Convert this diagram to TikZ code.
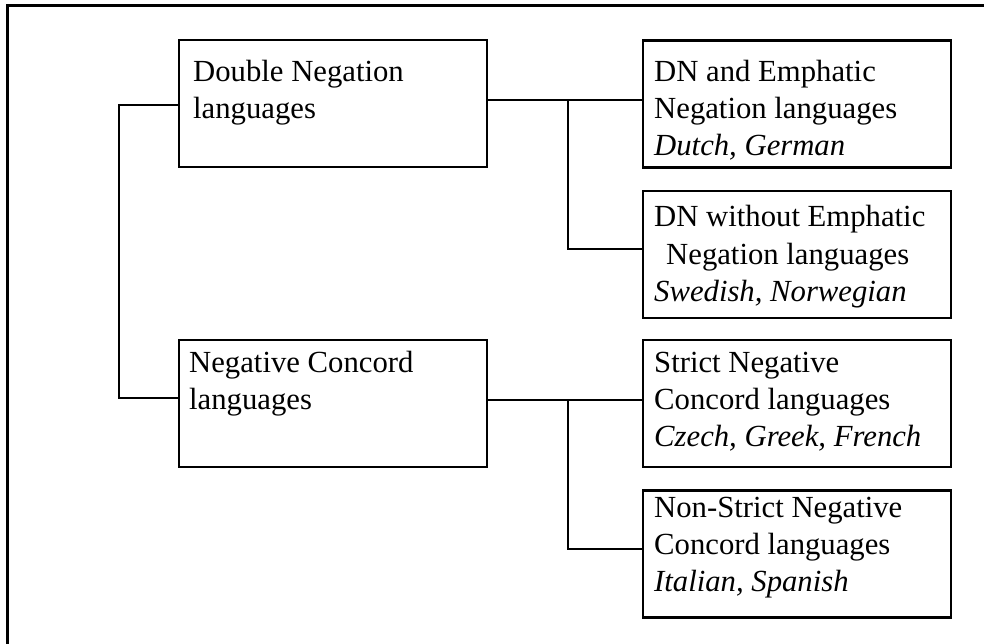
\documentclass[tikz,border=0pt]{standalone}
\usepackage{fontspec}
\setmainfont{Liberation Serif}
\begin{document}
\begin{tikzpicture}[x=1pt,y=-1pt,
  box/.style={draw, line width=2.5pt, minimum width=308pt, minimum height=127pt, inner sep=0pt},
  txt/.style={anchor=base west, inner sep=0pt, font=\fontsize{30.7}{37}\selectfont},
  conn/.style={line width=2.5pt}]
\useasboundingbox (0,0) rectangle (984,644);
% outer frame (top and left only visible)
\draw[line width=3pt] (7,650) -- (7,6) -- (990,6);
% boxes
\node[box] (dn) at (333,103.5) {};
\node[box] (nc) at (333,403.5) {};
\node[box] (dne) at (797,104) {};
\node[box] (dnw) at (797,254.5) {};
\node[box] (snc) at (797,403.5) {};
\node[box] (nsnc) at (797,554) {};
% texts
\node[txt] (tdn) at (193,82) {\parbox[t]{290pt}{Double Negation\\languages}};
\node[txt] (tnc) at (189,372) {\parbox[t]{290pt}{Negative Concord\\languages}};
\node[txt] (tdne) at (654,82) {\parbox[t]{295pt}{DN and Emphatic\\Negation languages\\\textit{Dutch, German}}};
\node[txt] (tdnw) at (654,227) {\parbox[t]{295pt}{DN without Emphatic\\\hspace*{12pt}Negation languages\\\textit{Swedish, Norwegian}}};
\node[txt] (tsnc) at (654,372) {\parbox[t]{295pt}{Strict Negative\\Concord languages\\\textit{Czech, Greek, French}}};
\node[txt] (tnsnc) at (654,517) {\parbox[t]{295pt}{Non-Strict Negative\\Concord languages\\\textit{Italian, Spanish}}};
% junction and connector end coordinates
\coordinate (lx) at (119,0);
\coordinate (jx) at (568,0);
\coordinate (dnL) at ([yshift=-1.5pt]dn.west);
\coordinate (ncL) at ([yshift=5.5pt]nc.west);
\coordinate (dnR) at ([yshift=3.5pt]dn.east);
\coordinate (ncR) at ([yshift=3.5pt]nc.east);
\coordinate (dnwL) at ([yshift=5.5pt]dnw.west);
\coordinate (nsncL) at ([yshift=5pt]nsnc.west);
% connectors
\draw[conn] (dnL) -| (ncL -| lx) -- (ncL);
\draw[conn] (dnR) -- (dnR -| dne.west);
\draw[conn] (dnR -| jx) |- (dnwL);
\draw[conn] (ncR) -- (ncR -| snc.west);
\draw[conn] (ncR -| jx) |- (nsncL);
\end{tikzpicture}
\end{document}
